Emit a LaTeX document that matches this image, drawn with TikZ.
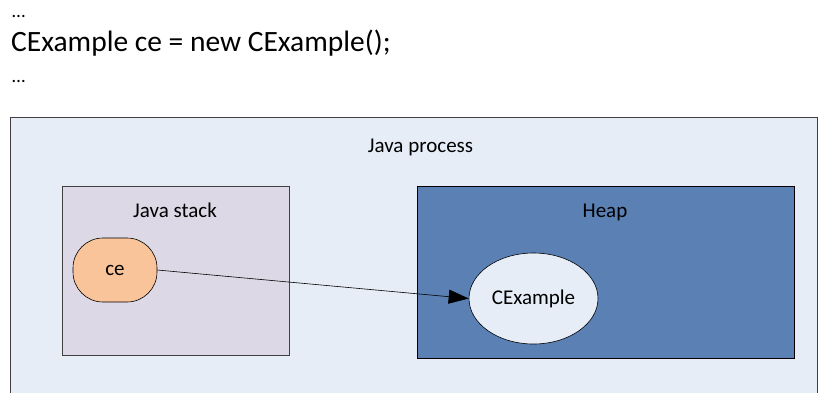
\documentclass[tikz,border=0pt]{standalone}
\usepackage{fontspec}
\setmainfont{Carlito}
\usetikzlibrary{shapes.geometric,arrows.meta}
\definecolor{procfill}{HTML}{E6EDF7}
\definecolor{stackfill}{HTML}{DDD8E5}
\definecolor{heapfill}{HTML}{5A80B4}
\definecolor{reffill}{HTML}{F9C499}
\definecolor{edge}{HTML}{404040}
\tikzset{
  area/.style={draw=edge, line width=0.8pt, anchor=north west, inner sep=0pt},
  caption/.style={font=\fontsize{21}{24}\selectfont, inner sep=0pt, anchor=base},
  ref/.style={draw=black, fill=reffill, line width=0.6pt, rounded corners=30pt,
    minimum width=84pt, minimum height=64pt, font=\fontsize{21}{24}\selectfont},
  object/.style={ellipse, draw=black, fill=procfill, line width=0.6pt, inner sep=0pt,
    minimum width=129pt, minimum height=91pt, font=\fontsize{21}{24}\selectfont},
}
\begin{document}
\begin{tikzpicture}[x=1pt,y=-1pt]
    \useasboundingbox (0,0) rectangle (821,392);
    \clip (0,0) rectangle (821,392);
    % code snippet
    \node[caption, font=\fontsize{19}{22}\selectfont, anchor=base west] (dots1) at (12,17) {\ldots};
    \node[font=\fontsize{29.5}{32}\selectfont, inner sep=0pt, anchor=base west] (code) at (11,51) {CExample ce = new CExample();};
    \node[caption, font=\fontsize{19}{22}\selectfont, anchor=base west] (dots2) at (12,82) {\ldots};
    % memory areas
    \node[area, fill=procfill, minimum width=807pt, minimum height=300pt] (proc) at (10,117) {};
    \node[caption] (proclabel) at (420.5,152) {Java process};
    \node[area, fill=stackfill, minimum width=227pt, minimum height=169pt] (stack) at (62,186) {};
    \node[caption] (stacklabel) at (175,217) {Java stack};
    \node[area, draw=black, fill=heapfill, minimum width=377pt, minimum height=172pt] (heap) at (417,186) {};
    \node[caption] (heaplabel) at (605,217) {Heap};
    % reference and object
    \node[ref] (ce) at (115,270) {ce};
    \node[object] (obj) at (533.5,298.5) {CExample};
    \draw[line width=0.6pt, -{Triangle[length=20pt,width=14pt]}] (ce.east) -- (obj.west);
\end{tikzpicture}
\end{document}
